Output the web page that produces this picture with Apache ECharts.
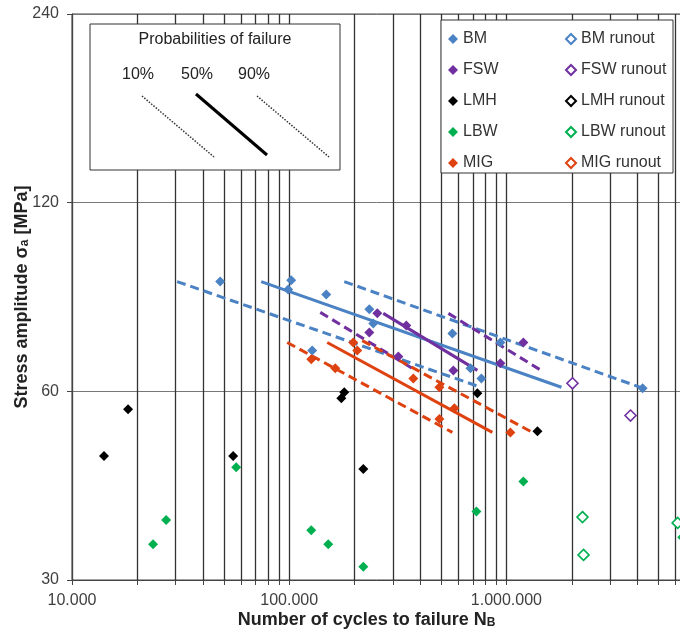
<!DOCTYPE html>
<html>
<head>
<meta charset="utf-8">
<script src="https://cdn.jsdelivr.net/npm/echarts@6/dist/echarts.min.js"></script>
</head>
<body style="margin:0">
<div id="container" style="width:680px;height:635px"></div>
<script>
// axis ticks
var xTicks = [10000, 20000, 30000, 40000, 50000, 60000, 70000, 80000, 90000,
    100000, 200000, 300000, 400000, 500000, 600000, 700000, 800000, 900000,
    1000000, 2000000, 3000000, 4000000, 5000000, 6000000];
var xLabels = [10000, 100000, 1000000];
var yTicks = [30, 60, 120, 240];

// test results [cycles, stress amplitude]
var bm = [[48100, 89.8], [102100, 90.2], [98900, 87.2], [148100, 85.6], [127600, 69.7], [233700, 81.1],
    [243800, 77.0], [563700, 74.2], [937900, 71.8], [682700, 65.3], [767000, 62.9], [4236000, 60.7]];
var bmRunout = [];
var fsw = [[254500, 79.9], [346000, 76.4], [233700, 74.5], [318000, 68.2], [570000, 64.8],
    [937900, 66.5], [1197000, 71.8]];
var fswRunout = [[2014000, 61.8], [3726000, 54.9]];
var lmh = [[14040, 47.3], [18120, 56.2], [55200, 47.3], [179200, 59.8], [173700, 58.5],
    [219300, 45.1], [735000, 59.6], [1389000, 51.8]];
var lmhRunout = [];
var lbw = [[23620, 34.2], [27120, 37.4], [57000, 45.4], [126300, 36.0], [151300, 34.2],
    [219300, 31.5], [727700, 38.6], [1197000, 43.1], [6450000, 35.1]];
var lbwRunout = [[2240000, 37.8], [2265000, 32.9], [6140000, 37.0]];
var mig = [[126300, 67.5], [197200, 71.8], [205700, 69.7], [162900, 65.3], [372600, 62.9],
    [491200, 60.9], [575800, 56.4], [491200, 54.2], [1043000, 51.6]];
var migRunout = [];

// S-N curves for 10 / 50 / 90 % probability of failure
var bm10 = [[30460, 89.8], [743000, 61.1]];
var bm50 = [[74300, 89.8], [1792000, 60.9]];
var bm90 = [[179200, 89.8], [4236000, 60.7]];
var fsw10 = [[139000, 80.2], [376700, 65.0]];
var fsw50 = [[271000, 79.9], [735000, 64.8]];
var fsw90 = [[540400, 79.9], [1466000, 64.6]];
var mig10 = [[97900, 71.8], [563700, 51.6]];
var mig50 = [[149600, 71.8], [861500, 51.6]];
var mig90 = [[216900, 72.3], [1318000, 51.6]];

var BLUE = '#4A82C4', PURPLE = '#7030A0', BLACK = '#000000', GREEN = '#00B050', RED = '#DE4210';
var FONT = 'Liberation Sans, Arial, sans-serif';

function dots(name, data, color, hollow) {
    return {
        name: name, type: 'scatter', data: data, symbol: 'diamond', clip: false,
        symbolSize: hollow ? 11 : 10, z: 5,
        itemStyle: hollow ? { color: '#fff', borderColor: color, borderWidth: 1.6, opacity: 1 }
            : { color: color, opacity: 1 }
    };
}
function curve(name, data, color, dashed) {
    return {
        name: name, type: 'line', data: data, symbol: 'none', z: 4,
        lineStyle: { color: color, width: 3, type: dashed ? [9, 5] : 'solid' }
    };
}
function fmt(v) {
    return String(Math.round(v)).replace(/\B(?=(\d{3})+(?!\d))/g, '.');
}

var dom = document.getElementById('container');
var myChart = echarts.init(dom);
var legendText = { fontSize: 16, color: '#333', fontFamily: FONT, lineHeight: 16 };
var nameRich = {
    t: { fontSize: 18, fontWeight: 'bold', color: '#222', fontFamily: FONT },
    s: { fontSize: 12, fontWeight: 'bold', color: '#222', fontFamily: FONT, verticalAlign: 'bottom' }
};
var option = {
    animation: false,
    textStyle: { fontFamily: FONT },
    grid: { left: 72, right: -3, top: 14, bottom: 55, containLabel: false, outerBoundsMode: 'none',
        show: true, borderColor: '#444', borderWidth: 1 },
    legend: [{
        data: ['BM', 'FSW', 'LMH', 'LBW', 'MIG'],
        orient: 'vertical', left: 443, top: 26, itemGap: 15, itemWidth: 10, itemHeight: 10,
        textStyle: legendText, selectedMode: false
    }, {
        data: ['BM runout', 'FSW runout', 'LMH runout', 'LBW runout', 'MIG runout'],
        orient: 'vertical', left: 560, top: 26, itemGap: 15, itemWidth: 10, itemHeight: 10,
        textStyle: legendText, selectedMode: false
    }],
    xAxis: {
        type: 'log', logBase: 10, min: 10000, max: 6500000,
        axisLine: { lineStyle: { color: '#444' } },
        axisTick: { customValues: xTicks, length: 5, lineStyle: { color: '#444' } },
        axisLabel: { customValues: xLabels, formatter: fmt, fontSize: 16, color: '#404040', margin: 13 },
        splitLine: { show: true, lineStyle: { color: '#333', width: 1.3 } },
        minorTick: { show: false },
        name: '{t|Number of cycles to failure N}{s|B}',
        nameLocation: 'middle', nameGap: 31, nameMoveOverlap: false,
        nameTextStyle: { padding: [0, 22, 0, 0], rich: nameRich }
    },
    yAxis: {
        type: 'log', logBase: 2, min: 30, max: 240,
        axisLine: { show: true, lineStyle: { color: '#444' } },
        axisTick: { show: true, customValues: yTicks, length: 5, lineStyle: { color: '#444' } },
        axisLabel: { customValues: yTicks, formatter: function (v) { return String(Math.round(v)); },
            fontSize: 16, color: '#404040', margin: 13 },
        splitLine: { show: true, lineStyle: { color: '#777', width: 1 } },
        minorTick: { show: false },
        name: '{t|Stress amplitude σ}{s|a}{t| [MPa]}',
        nameLocation: 'middle', nameGap: 41, nameMoveOverlap: false,
        nameTextStyle: { rich: nameRich }
    },
    graphic: [
        { type: 'rect', z: 3, shape: { x: 90, y: 24, width: 250, height: 146 },
          style: { fill: '#fff', stroke: '#333', lineWidth: 1 } },
        { type: 'text', z: 4, x: 215, y: 40,
          style: { text: 'Probabilities of failure', fontSize: 16, fontFamily: FONT, fill: '#222', align: 'center', verticalAlign: 'middle' } },
        { type: 'text', z: 4, x: 138, y: 75,
          style: { text: '10%', fontSize: 16, fontFamily: FONT, fill: '#222', align: 'center', verticalAlign: 'middle' } },
        { type: 'text', z: 4, x: 197, y: 75,
          style: { text: '50%', fontSize: 16, fontFamily: FONT, fill: '#222', align: 'center', verticalAlign: 'middle' } },
        { type: 'text', z: 4, x: 254, y: 75,
          style: { text: '90%', fontSize: 16, fontFamily: FONT, fill: '#222', align: 'center', verticalAlign: 'middle' } },
        { type: 'line', z: 4, shape: { x1: 142, y1: 96, x2: 214, y2: 157 },
          style: { stroke: '#333', lineWidth: 1.5, lineDash: [1.5, 1.5] } },
        { type: 'line', z: 4, shape: { x1: 196, y1: 94, x2: 267, y2: 155 },
          style: { stroke: '#000', lineWidth: 3 } },
        { type: 'line', z: 4, shape: { x1: 257, y1: 96, x2: 329, y2: 157 },
          style: { stroke: '#333', lineWidth: 1.5, lineDash: [1.5, 1.5] } },
        { type: 'rect', z: 3, shape: { x: 441, y: 20, width: 232, height: 153 },
          style: { fill: '#fff', stroke: '#333', lineWidth: 1 } }
    ],
    series: [
        curve('BM 10%', bm10, BLUE, true),
        curve('BM 50%', bm50, BLUE, false),
        curve('BM 90%', bm90, BLUE, true),
        curve('FSW 10%', fsw10, PURPLE, true),
        curve('FSW 50%', fsw50, PURPLE, false),
        curve('FSW 90%', fsw90, PURPLE, true),
        curve('MIG 10%', mig10, RED, true),
        curve('MIG 50%', mig50, RED, false),
        curve('MIG 90%', mig90, RED, true),
        dots('BM', bm, BLUE, false),
        dots('FSW', fsw, PURPLE, false),
        dots('LMH', lmh, BLACK, false),
        dots('LBW', lbw, GREEN, false),
        dots('MIG', mig, RED, false),
        dots('BM runout', bmRunout, BLUE, true),
        dots('FSW runout', fswRunout, PURPLE, true),
        dots('LMH runout', lmhRunout, BLACK, true),
        dots('LBW runout', lbwRunout, GREEN, true),
        dots('MIG runout', migRunout, RED, true)
    ]
};
myChart.setOption(option);
</script>
</body>
</html>
